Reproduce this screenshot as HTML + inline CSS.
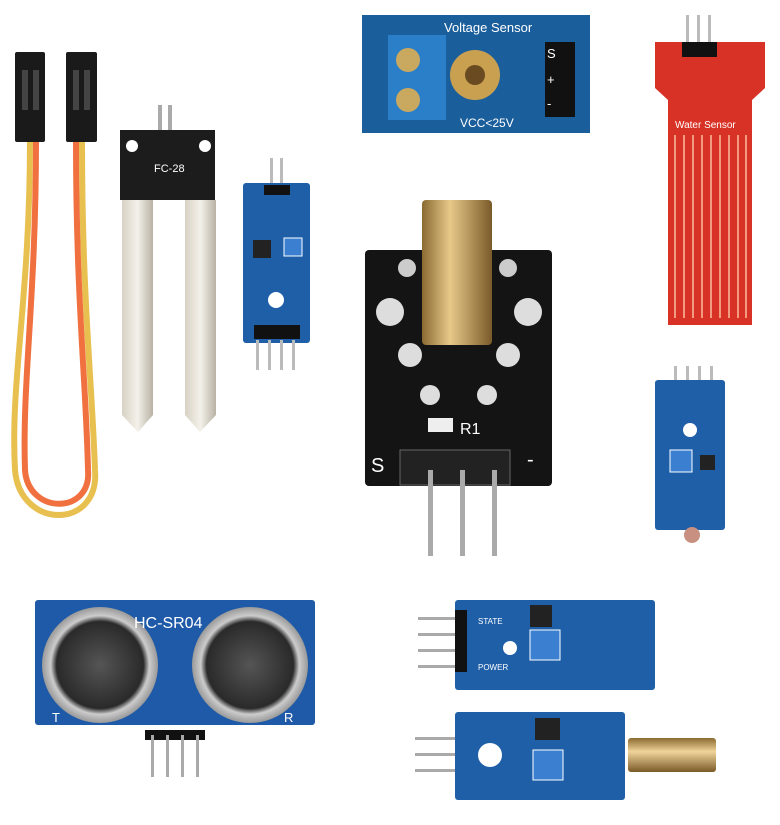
<!DOCTYPE html>
<html><head><meta charset="utf-8"><style>
html,body{margin:0;padding:0;background:#fff;width:780px;height:825px;overflow:hidden}
svg{display:block}
text{font-family:"Liberation Sans",sans-serif}
</style></head><body>
<svg width="780" height="825" viewBox="0 0 780 825" xmlns="http://www.w3.org/2000/svg">
<defs>
<linearGradient id="silver" x1="0" x2="1"><stop offset="0" stop-color="#d8d2c4"/><stop offset="0.5" stop-color="#f4f1ea"/><stop offset="1" stop-color="#b8b2a4"/></linearGradient>
<linearGradient id="brass" x1="0" x2="1"><stop offset="0" stop-color="#8a6a30"/><stop offset="0.4" stop-color="#e8c98a"/><stop offset="1" stop-color="#7a5a28"/></linearGradient>
<linearGradient id="brassV" x1="0" y1="0" x2="0" y2="1"><stop offset="0" stop-color="#8a6a30"/><stop offset="0.4" stop-color="#f0d49a"/><stop offset="1" stop-color="#7a5a28"/></linearGradient>
<radialGradient id="ultra"><stop offset="0" stop-color="#555"/><stop offset="0.75" stop-color="#2a2a2a"/><stop offset="0.85" stop-color="#ccc"/><stop offset="1" stop-color="#999"/></radialGradient>
</defs>

<!-- jumper wires -->
<path d="M30 140 C30 300 10 380 15 470 C20 530 100 530 95 470 C92 380 82 300 82 140" fill="none" stroke="#e8c050" stroke-width="6"/>
<path d="M36 140 C36 300 22 380 25 470 C28 515 92 515 88 470 C86 380 76 300 76 140" fill="none" stroke="#f07040" stroke-width="6"/>
<rect x="15" y="52" width="30" height="90" fill="#1a1a1a" rx="2"/>
<rect x="66" y="52" width="31" height="90" fill="#1a1a1a" rx="2"/>
<rect x="22" y="70" width="6" height="40" fill="#444"/><rect x="33" y="70" width="6" height="40" fill="#444"/>
<rect x="73" y="70" width="6" height="40" fill="#444"/><rect x="84" y="70" width="6" height="40" fill="#444"/>

<!-- soil probe -->
<rect x="158" y="105" width="4" height="30" fill="#aaa"/><rect x="168" y="105" width="4" height="30" fill="#aaa"/>
<path d="M120 130 H215 V200 H120 Z" fill="#1c1c1c"/>
<circle cx="132" cy="146" r="6" fill="#fff"/><circle cx="205" cy="146" r="6" fill="#fff"/>
<text x="154" y="172" fill="#fff" font-size="11">FC-28</text>
<path d="M122 200 H153 V415 L138 432 L122 415 Z" fill="url(#silver)"/>
<path d="M185 200 H216 V415 L200 432 L185 415 Z" fill="url(#silver)"/>

<!-- small blue module -->
<rect x="270" y="158" width="3" height="28" fill="#bbb"/><rect x="280" y="158" width="3" height="28" fill="#bbb"/>
<rect x="243" y="183" width="67" height="160" fill="#1e5fa8" rx="3"/>
<rect x="264" y="185" width="26" height="10" fill="#111"/>
<rect x="253" y="240" width="18" height="18" fill="#222"/>
<rect x="284" y="238" width="18" height="18" fill="#3a7fd0" stroke="#fff"/>
<circle cx="276" cy="300" r="8" fill="#fff"/>
<rect x="254" y="325" width="46" height="14" fill="#111"/>
<rect x="256" y="340" width="3" height="30" fill="#bbb"/><rect x="268" y="340" width="3" height="30" fill="#bbb"/><rect x="280" y="340" width="3" height="30" fill="#bbb"/><rect x="292" y="340" width="3" height="30" fill="#bbb"/>

<!-- voltage sensor -->
<rect x="362" y="15" width="228" height="118" fill="#1b5e9c"/>
<rect x="388" y="35" width="58" height="85" fill="#2a7fc8"/>
<circle cx="408" cy="60" r="12" fill="#c9a860"/><circle cx="408" cy="100" r="12" fill="#c9a860"/>
<circle cx="475" cy="75" r="25" fill="#c9a050"/><circle cx="475" cy="75" r="10" fill="#6a4a20"/>
<rect x="545" y="42" width="30" height="75" fill="#111"/>
<text x="444" y="32" fill="#fff" font-size="13">Voltage Sensor</text>
<text x="460" y="127" fill="#fff" font-size="12">VCC&lt;25V</text>
<text x="547" y="58" fill="#fff" font-size="13">S</text><text x="547" y="84" fill="#fff" font-size="13">+</text><text x="547" y="108" fill="#fff" font-size="13">-</text>

<!-- water sensor -->
<rect x="686" y="15" width="3" height="30" fill="#bbb"/><rect x="697" y="15" width="3" height="30" fill="#bbb"/><rect x="708" y="15" width="3" height="30" fill="#bbb"/>
<path d="M655 42 H765 V88 L752 100 V325 H668 V100 L655 88 Z" fill="#d83226"/>
<rect x="682" y="42" width="35" height="15" fill="#111"/>
<text x="675" y="128" fill="#fff" font-size="10" font-family="Liberation Serif">Water Sensor</text>
<g stroke="#f29a80" stroke-width="2">
<line x1="675" y1="135" x2="675" y2="318"/><line x1="684" y1="135" x2="684" y2="318"/><line x1="693" y1="135" x2="693" y2="318"/><line x1="702" y1="135" x2="702" y2="318"/><line x1="711" y1="135" x2="711" y2="318"/><line x1="720" y1="135" x2="720" y2="318"/><line x1="729" y1="135" x2="729" y2="318"/><line x1="738" y1="135" x2="738" y2="318"/><line x1="746" y1="135" x2="746" y2="318"/>
</g>

<!-- laser module -->
<rect x="365" y="250" width="187" height="236" fill="#141414" rx="4"/>
<circle cx="407" cy="268" r="9" fill="#ccc"/><circle cx="508" cy="268" r="9" fill="#ccc"/>
<circle cx="390" cy="312" r="14" fill="#ddd"/><circle cx="528" cy="312" r="14" fill="#ddd"/>
<circle cx="410" cy="355" r="12" fill="#ddd"/><circle cx="508" cy="355" r="12" fill="#ddd"/>
<circle cx="430" cy="395" r="10" fill="#ddd"/><circle cx="487" cy="395" r="10" fill="#ddd"/>
<rect x="422" y="200" width="70" height="145" fill="url(#brass)" rx="4"/>
<rect x="428" y="418" width="25" height="14" fill="#eee"/>
<text x="460" y="434" fill="#fff" font-size="16">R1</text>
<text x="371" y="472" fill="#fff" font-size="20">S</text>
<text x="527" y="466" fill="#fff" font-size="20">-</text>
<rect x="400" y="450" width="110" height="35" fill="#222" stroke="#666"/>
<rect x="428" y="470" width="5" height="86" fill="#aaa"/><rect x="460" y="470" width="5" height="86" fill="#aaa"/><rect x="492" y="470" width="5" height="86" fill="#aaa"/>

<!-- photoresistor module -->
<rect x="674" y="366" width="3" height="22" fill="#bbb"/><rect x="686" y="366" width="3" height="22" fill="#bbb"/><rect x="698" y="366" width="3" height="22" fill="#bbb"/><rect x="710" y="366" width="3" height="22" fill="#bbb"/>
<rect x="655" y="380" width="70" height="150" fill="#1e5fa8" rx="3"/>
<circle cx="690" cy="430" r="7" fill="#fff"/>
<rect x="670" y="450" width="22" height="22" fill="#3a7fd0" stroke="#fff"/>
<rect x="700" y="455" width="15" height="15" fill="#222"/>
<circle cx="692" cy="535" r="8" fill="#c89080"/>

<!-- HC-SR04 -->
<rect x="35" y="600" width="280" height="125" fill="#1e5aa8" rx="3"/>
<circle cx="100" cy="665" r="58" fill="url(#ultra)"/>
<circle cx="250" cy="665" r="58" fill="url(#ultra)"/>
<text x="134" y="628" fill="#fff" font-size="16">HC-SR04</text>
<text x="52" y="722" fill="#fff" font-size="13">T</text><text x="284" y="722" fill="#fff" font-size="13">R</text>
<rect x="145" y="730" width="60" height="10" fill="#111"/>
<rect x="151" y="735" width="3" height="42" fill="#aaa"/><rect x="166" y="735" width="3" height="42" fill="#aaa"/><rect x="181" y="735" width="3" height="42" fill="#aaa"/><rect x="196" y="735" width="3" height="42" fill="#aaa"/>

<!-- sound module -->
<rect x="418" y="617" width="40" height="3" fill="#aaa"/><rect x="418" y="633" width="40" height="3" fill="#aaa"/><rect x="418" y="649" width="40" height="3" fill="#aaa"/><rect x="418" y="665" width="40" height="3" fill="#aaa"/>
<rect x="455" y="600" width="200" height="90" fill="#1e5fa8" rx="3"/>
<rect x="455" y="610" width="12" height="62" fill="#111"/>
<text x="478" y="624" fill="#fff" font-size="8">STATE</text><text x="478" y="670" fill="#fff" font-size="8">POWER</text>
<rect x="530" y="605" width="22" height="22" fill="#222"/>
<rect x="530" y="630" width="30" height="30" fill="#3a7fd0" stroke="#fff"/>
<circle cx="510" cy="648" r="7" fill="#fff"/>

<!-- tilt module -->
<rect x="415" y="737" width="40" height="3" fill="#aaa"/><rect x="415" y="753" width="40" height="3" fill="#aaa"/><rect x="415" y="769" width="40" height="3" fill="#aaa"/>
<rect x="455" y="712" width="170" height="88" fill="#1e5fa8" rx="3"/>
<circle cx="490" cy="755" r="12" fill="#fff"/>
<rect x="535" y="718" width="25" height="22" fill="#222"/>
<rect x="533" y="750" width="30" height="30" fill="#3a7fd0" stroke="#fff"/>
<rect x="628" y="738" width="88" height="34" fill="url(#brassV)" rx="3"/>
</svg>
</body></html>
